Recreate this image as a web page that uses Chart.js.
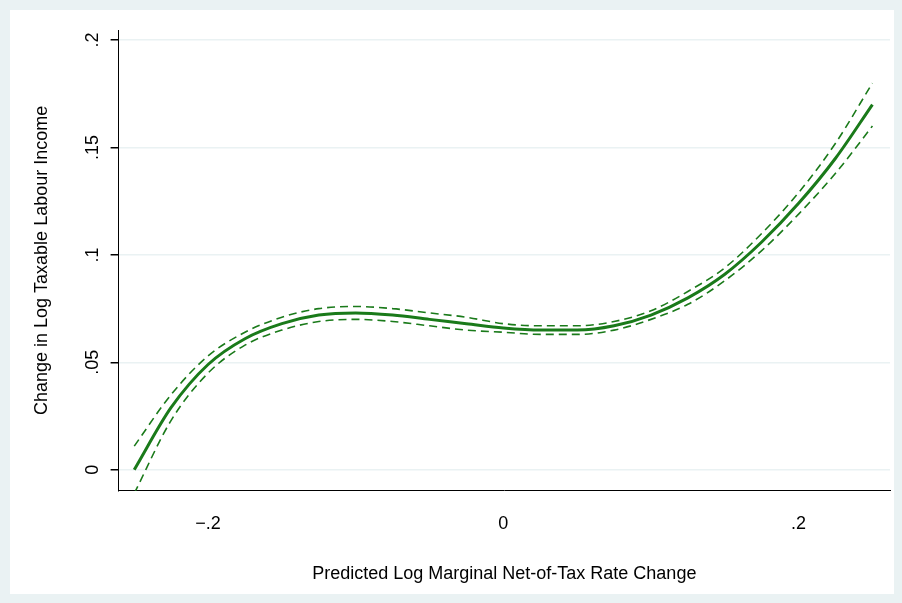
<!DOCTYPE html>
<html>
<head>
<meta charset="utf-8">
<script src="https://cdn.jsdelivr.net/npm/chart.js@4"></script>
<style>
  html, body { margin: 0; padding: 0; background: #eaf2f3; }
  #wrap { position: absolute; left: 10px; top: 10px; width: 884px; height: 584px; background: #fff; }
</style>
</head>
<body>
<div id="wrap"><canvas id="c"></canvas></div>
<script>
var xs    = [-0.25,-0.225,-0.2,-0.175,-0.15,-0.125,-0.1,-0.075,-0.05,-0.025,0,0.025,0.05,0.075,0.1,0.125,0.15,0.175,0.2,0.225,0.25];
var fit   = [0.000,0.029,0.049,0.061,0.068,0.072,0.073,0.072,0.070,0.068,0.066,0.065,0.065,0.067,0.072,0.080,0.091,0.106,0.124,0.145,0.170];
var upper = [0.011,0.035,0.053,0.064,0.071,0.075,0.076,0.075,0.073,0.071,0.068,0.067,0.067,0.069,0.074,0.083,0.094,0.110,0.129,0.152,0.180];
var lower = [-0.011,0.023,0.045,0.058,0.065,0.069,0.070,0.069,0.067,0.065,0.064,0.063,0.063,0.065,0.070,0.077,0.088,0.102,0.119,0.138,0.160];
var xTicks = [-0.2, 0, 0.2];
var yTicks = [0, 0.05, 0.1, 0.15, 0.2];

function pts(ys) { return xs.map(function (x, i) { return { x: x, y: ys[i] }; }); }
function fmt(v) {
  var s = String(Math.round(v * 1000) / 1000);
  return s.replace("0.", ".").replace("-.", "\u2212.");
}

var green = "#1a7a1a";
var font = { family: "Liberation Sans, Arial, sans-serif", size: 18 };

// y tick labels read bottom-to-top, like Stata
var yLabels = {
  id: "yLabels",
  afterDraw: function (chart) {
    var ctx = chart.ctx, y = chart.scales.y;
    ctx.save();
    ctx.font = "18px " + font.family;
    ctx.fillStyle = "#000";
    ctx.textAlign = "center";
    ctx.textBaseline = "bottom";
    yTicks.forEach(function (v) {
      ctx.save();
      ctx.translate(y.left + y.width - 17, y.getPixelForValue(v));
      ctx.rotate(-Math.PI / 2);
      ctx.fillText(fmt(v), 0, 0);
      ctx.restore();
    });
    ctx.restore();
  }
};

new Chart(document.getElementById("c"), {
  type: "line",
  data: {
    datasets: [
      { data: pts(fit), borderColor: green, borderWidth: 3 },
      { data: pts(upper), borderColor: green, borderWidth: 1.6, borderDash: [8, 5] },
      { data: pts(lower), borderColor: green, borderWidth: 1.6, borderDash: [8, 5] }
    ]
  },
  options: {
    responsive: true,
    maintainAspectRatio: false,
    animation: false,
    layout: { padding: { top: 20, right: 4, bottom: 5, left: 17 } },
    elements: { point: { radius: 0 }, line: { cubicInterpolationMode: "monotone" } },
    plugins: { legend: { display: false }, tooltip: { enabled: false } },
    scales: {
      x: {
        type: "linear", min: -0.2606, max: 0.2619,
        afterBuildTicks: function (s) { s.ticks = xTicks.map(function (v) { return { value: v }; }); },
        ticks: { font: font, color: "#000", callback: fmt, padding: 14 },
        grid: { display: false, drawTicks: true, tickLength: 8, tickColor: "#000" },
        border: { color: "#000" },
        title: { display: true, text: "Predicted Log Marginal Net-of-Tax Rate Change", font: font, color: "#000", padding: { top: 15 } }
      },
      y: {
        min: -0.0098, max: 0.2047,
        afterBuildTicks: function (s) { s.ticks = yTicks.map(function (v) { return { value: v }; }); },
        ticks: { display: false },
        grid: { color: "#eaf2f3", lineWidth: 1.5, tickLength: 8, tickColor: "#000" },
        border: { color: "#000" },
        title: { display: true, text: "Change in Log Taxable Labour Income", font: font, color: "#000", padding: { bottom: 58 } }
      }
    }
  },
  plugins: [yLabels]
});
</script>
</body>
</html>
